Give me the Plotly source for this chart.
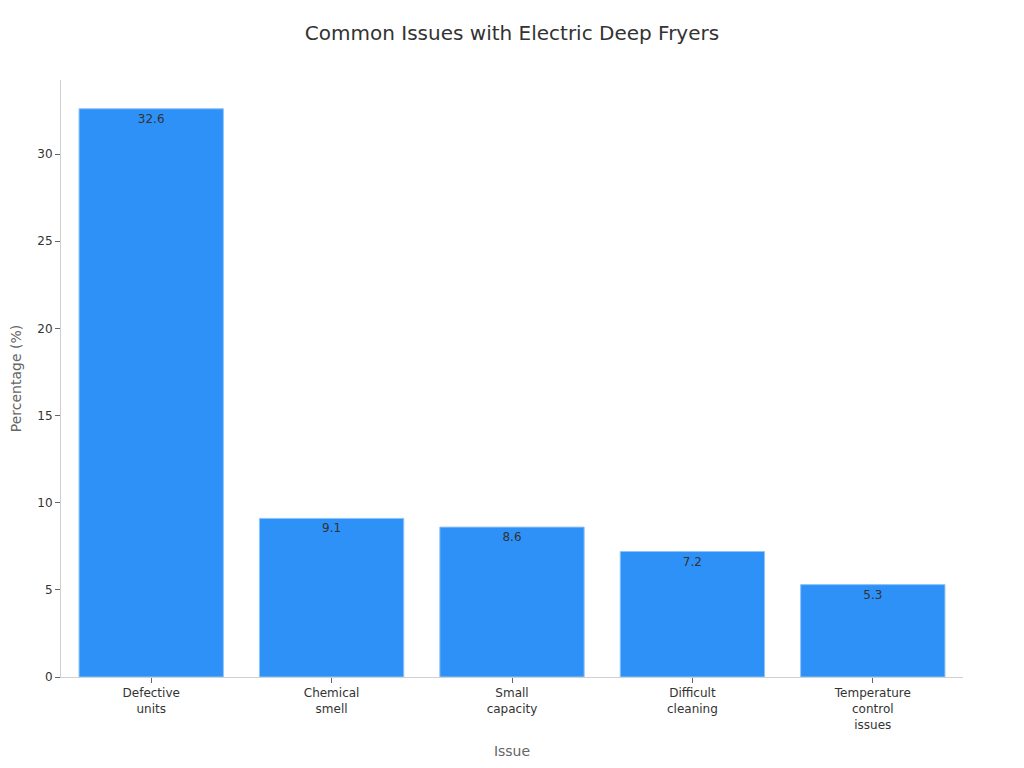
import plotly.graph_objects as go

categories = ["Defective<br>units", "Chemical<br>smell", "Small<br>capacity", "Difficult<br>cleaning", "Temperature<br>control<br>issues"]
values = [32.6, 9.1, 8.6, 7.2, 5.3]
title = "Common Issues with Electric Deep Fryers"

fig = go.Figure(go.Bar(
    x=categories, y=values,
    text=[f"{v:.1f}" for v in values],
    textposition="inside", insidetextanchor="end",
    textfont=dict(size=12, color="#333333", family="DejaVu Sans"),
    marker=dict(color="#2E91F7", line=dict(color="#8EC4F8", width=1)),
))
fig.update_layout(
    width=1008, height=752,
    margin=dict(l=53, r=53, t=72, b=83),
    title=dict(text=title, x=0.5, xanchor="center", y=0.9668, yanchor="middle",
               font=dict(size=20, color="#333333", family="DejaVu Sans")),
    font=dict(family="DejaVu Sans", size=12, color="#333333"),
    plot_bgcolor="white", paper_bgcolor="white",
    bargap=0.2, showlegend=False,
    xaxis=dict(title=dict(text="Issue", font=dict(size=14, color="#666666"), standoff=15),
               automargin=False,
               showline=True, linecolor="#d0d0d0", linewidth=1,
               ticks="outside", ticklen=5, tickcolor="#666666",
               tickfont=dict(size=12, color="#333333")),
    yaxis=dict(title=dict(text="Percentage (%)", font=dict(size=14, color="#666666")),
               automargin=False,
               range=[0, 34.25], dtick=5, showgrid=False, zeroline=False,
               showline=True, linecolor="#d0d0d0", linewidth=1,
               ticks="outside", ticklen=5, tickcolor="#666666",
               tickfont=dict(size=12, color="#333333")),
)
fig.write_html("out.html")
